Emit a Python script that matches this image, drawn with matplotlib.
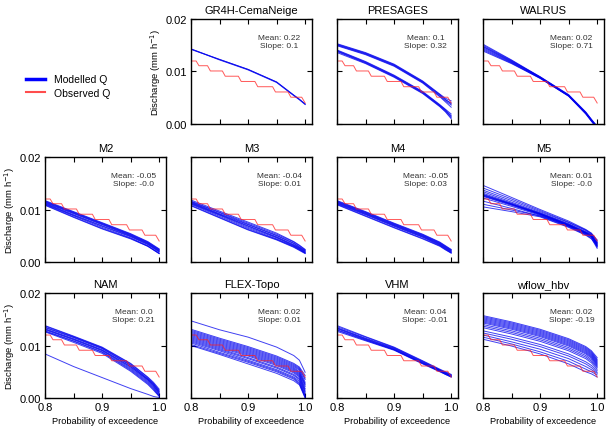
import matplotlib
matplotlib.use("Agg")
import matplotlib.pyplot as plt
from matplotlib.lines import Line2D

plt.rcParams['font.family'] = ['Liberation Sans', 'DejaVu Sans']

# ---------------- data ----------------
x_grid = [0.80, 0.85, 0.90, 0.95, 0.98, 0.99, 1.00]

obs_x = [0.800, 0.809, 0.814, 0.829, 0.834, 0.855, 0.860, 0.883, 0.888,
         0.912, 0.917, 0.943, 0.948, 0.970, 0.975, 0.994, 1.000]
obs_q = [0.0120, 0.0120, 0.0111, 0.0111, 0.0101, 0.0101, 0.0091, 0.0091, 0.0081,
         0.0081, 0.0071, 0.0071, 0.0061, 0.0061, 0.0051, 0.0051, 0.0040]

models = ["GR4H-CemaNeige", "PRESAGES", "WALRUS",
          "M2", "M3", "M4", "M5",
          "NAM", "FLEX-Topo", "VHM", "wflow_hbv"]
mean_vals = ["0.22", "0.1", "0.02", "-0.05", "-0.04", "-0.05", "0.01",
             "0.0", "0.02", "0.04", "0.02"]
slope_vals = ["0.1", "0.32", "0.71", "-0.0", "0.01", "0.03", "-0.0",
              "0.21", "0.01", "-0.01", "-0.19"]

gr4h_q = [
    [0.0143, 0.0123, 0.0104, 0.0080, 0.0055, 0.0047, 0.0038],
    [0.0142, 0.0123, 0.0104, 0.0080, 0.0055, 0.0047, 0.0038],
    [0.0143, 0.0122, 0.0103, 0.0079, 0.0054, 0.0046, 0.0037],
]
presages_q = [
    [0.0153, 0.0136, 0.0114, 0.0082, 0.0057, 0.0049, 0.0044],
    [0.0151, 0.0134, 0.0112, 0.0080, 0.0055, 0.0046, 0.0040],
    [0.0150, 0.0133, 0.0111, 0.0079, 0.0053, 0.0044, 0.0036],
    [0.0149, 0.0132, 0.0110, 0.0078, 0.0052, 0.0042, 0.0032],
    [0.0152, 0.0135, 0.0113, 0.0081, 0.0056, 0.0047, 0.0038],
    [0.0141, 0.0119, 0.0093, 0.0062, 0.0037, 0.0028, 0.0019],
    [0.0139, 0.0117, 0.0091, 0.0060, 0.0035, 0.0026, 0.0016],
    [0.0138, 0.0116, 0.0090, 0.0059, 0.0034, 0.0024, 0.0012],
    [0.0136, 0.0115, 0.0089, 0.0058, 0.0033, 0.0023, 0.0010],
    [0.0140, 0.0118, 0.0092, 0.0061, 0.0036, 0.0027, 0.0014],
]
walrus_q = [
    [0.0152, 0.0122, 0.0090, 0.0055, 0.0022, 0.0008, -0.0006],
    [0.0150, 0.0121, 0.0089, 0.0054, 0.0021, 0.0007, -0.0007],
    [0.0147, 0.0119, 0.0089, 0.0055, 0.0020, 0.0006, -0.0008],
    [0.0145, 0.0118, 0.0088, 0.0054, 0.0021, 0.0007, -0.0006],
    [0.0143, 0.0117, 0.0088, 0.0053, 0.0019, 0.0005, -0.0009],
    [0.0141, 0.0116, 0.0087, 0.0053, 0.0020, 0.0006, -0.0008],
    [0.0139, 0.0115, 0.0087, 0.0054, 0.0022, 0.0008, -0.0005],
    [0.0148, 0.0120, 0.0090, 0.0056, 0.0023, 0.0009, -0.0004],
]
m2_q = [
    [0.0117, 0.0096, 0.0075, 0.0054, 0.0039, 0.0032, 0.0025],
    [0.0116, 0.0095, 0.0074, 0.0053, 0.0038, 0.0031, 0.0024],
    [0.0115, 0.0094, 0.0073, 0.0052, 0.0037, 0.0030, 0.0023],
    [0.0114, 0.0093, 0.0072, 0.0051, 0.0036, 0.0029, 0.0022],
    [0.0113, 0.0092, 0.0071, 0.0050, 0.0035, 0.0028, 0.0021],
    [0.0112, 0.0090, 0.0069, 0.0049, 0.0034, 0.0027, 0.0020],
    [0.0111, 0.0089, 0.0068, 0.0048, 0.0033, 0.0026, 0.0019],
    [0.0110, 0.0088, 0.0066, 0.0046, 0.0031, 0.0024, 0.0017],
    [0.0109, 0.0086, 0.0064, 0.0045, 0.0030, 0.0023, 0.0016],
    [0.0108, 0.0085, 0.0063, 0.0044, 0.0030, 0.0023, 0.0016],
]
m3_q = [
    [0.0118, 0.0097, 0.0076, 0.0055, 0.0039, 0.0032, 0.0024],
    [0.0116, 0.0095, 0.0074, 0.0053, 0.0038, 0.0031, 0.0023],
    [0.0115, 0.0094, 0.0072, 0.0051, 0.0036, 0.0029, 0.0022],
    [0.0114, 0.0092, 0.0071, 0.0050, 0.0035, 0.0028, 0.0021],
    [0.0113, 0.0091, 0.0069, 0.0048, 0.0033, 0.0027, 0.0020],
    [0.0112, 0.0090, 0.0068, 0.0047, 0.0032, 0.0026, 0.0019],
    [0.0111, 0.0089, 0.0066, 0.0046, 0.0031, 0.0025, 0.0018],
    [0.0110, 0.0087, 0.0064, 0.0044, 0.0030, 0.0024, 0.0017],
    [0.0108, 0.0085, 0.0062, 0.0043, 0.0029, 0.0023, 0.0017],
    [0.0107, 0.0084, 0.0061, 0.0042, 0.0028, 0.0022, 0.0016],
]
m4_q = [
    [0.0117, 0.0096, 0.0074, 0.0053, 0.0038, 0.0031, 0.0024],
    [0.0116, 0.0095, 0.0073, 0.0052, 0.0037, 0.0030, 0.0023],
    [0.0115, 0.0094, 0.0072, 0.0051, 0.0036, 0.0029, 0.0022],
    [0.0114, 0.0093, 0.0071, 0.0050, 0.0035, 0.0028, 0.0021],
    [0.0113, 0.0092, 0.0070, 0.0049, 0.0034, 0.0027, 0.0020],
    [0.0112, 0.0091, 0.0069, 0.0048, 0.0033, 0.0026, 0.0019],
    [0.0111, 0.0090, 0.0068, 0.0047, 0.0032, 0.0025, 0.0018],
    [0.0110, 0.0088, 0.0066, 0.0045, 0.0031, 0.0024, 0.0017],
    [0.0109, 0.0087, 0.0065, 0.0044, 0.0030, 0.0023, 0.0017],
]
m5_q = [
    [0.0146, 0.0123, 0.0100, 0.0078, 0.0062, 0.0055, 0.0040],
    [0.0141, 0.0120, 0.0098, 0.0076, 0.0061, 0.0054, 0.0042],
    [0.0137, 0.0117, 0.0096, 0.0075, 0.0060, 0.0053, 0.0036],
    [0.0134, 0.0114, 0.0094, 0.0073, 0.0058, 0.0052, 0.0033],
    [0.0131, 0.0112, 0.0093, 0.0072, 0.0057, 0.0051, 0.0038],
    [0.0129, 0.0111, 0.0092, 0.0071, 0.0056, 0.0050, 0.0030],
    [0.0128, 0.0110, 0.0092, 0.0071, 0.0056, 0.0050, 0.0034],
    [0.0127, 0.0110, 0.0091, 0.0070, 0.0055, 0.0049, 0.0035],
    [0.0126, 0.0109, 0.0091, 0.0070, 0.0055, 0.0049, 0.0031],
    [0.0125, 0.0108, 0.0090, 0.0069, 0.0054, 0.0048, 0.0028],
    [0.0122, 0.0106, 0.0089, 0.0068, 0.0053, 0.0047, 0.0032],
    [0.0116, 0.0102, 0.0087, 0.0067, 0.0052, 0.0045, 0.0026],
    [0.0110, 0.0099, 0.0088, 0.0069, 0.0055, 0.0049, 0.0037],
    [0.0105, 0.0096, 0.0086, 0.0066, 0.0051, 0.0044, 0.0030],
]
nam_q = [
    [0.0138, 0.0118, 0.0097, 0.0066, 0.0040, 0.0030, 0.0017],
    [0.0137, 0.0117, 0.0096, 0.0065, 0.0039, 0.0028, 0.0015],
    [0.0135, 0.0116, 0.0095, 0.0063, 0.0037, 0.0027, 0.0013],
    [0.0134, 0.0115, 0.0094, 0.0062, 0.0036, 0.0026, 0.0012],
    [0.0132, 0.0113, 0.0092, 0.0060, 0.0035, 0.0024, 0.0010],
    [0.0131, 0.0112, 0.0091, 0.0059, 0.0034, 0.0023, 0.0009],
    [0.0130, 0.0111, 0.0090, 0.0057, 0.0032, 0.0021, 0.0007],
    [0.0128, 0.0109, 0.0088, 0.0055, 0.0030, 0.0019, 0.0005],
    [0.0127, 0.0108, 0.0087, 0.0053, 0.0028, 0.0017, 0.0004],
    [0.0126, 0.0106, 0.0085, 0.0051, 0.0026, 0.0015, 0.0003],
    [0.0084, 0.0060, 0.0039, 0.0018, 0.0007, 0.0003, 0.0001],
]
flex_q = [
    [0.0147, 0.0130, 0.0116, 0.0097, 0.0081, 0.0072, 0.0049],
    [0.0131, 0.0114, 0.0098, 0.0080, 0.0066, 0.0059, 0.0043],
    [0.0129, 0.0112, 0.0096, 0.0078, 0.0064, 0.0057, 0.0038],
    [0.0127, 0.0110, 0.0094, 0.0076, 0.0062, 0.0055, 0.0035],
    [0.0125, 0.0108, 0.0092, 0.0074, 0.0060, 0.0053, 0.0030],
    [0.0123, 0.0106, 0.0090, 0.0072, 0.0058, 0.0050, 0.0027],
    [0.0121, 0.0104, 0.0088, 0.0070, 0.0056, 0.0048, 0.0025],
    [0.0119, 0.0102, 0.0086, 0.0068, 0.0054, 0.0046, 0.0022],
    [0.0117, 0.0100, 0.0084, 0.0066, 0.0052, 0.0044, 0.0018],
    [0.0115, 0.0098, 0.0082, 0.0064, 0.0050, 0.0042, 0.0015],
    [0.0113, 0.0096, 0.0080, 0.0062, 0.0048, 0.0040, 0.0012],
    [0.0111, 0.0094, 0.0077, 0.0059, 0.0045, 0.0037, 0.0010],
    [0.0109, 0.0092, 0.0075, 0.0057, 0.0043, 0.0035, 0.0006],
    [0.0107, 0.0090, 0.0072, 0.0054, 0.0040, 0.0032, 0.0004],
    [0.0105, 0.0087, 0.0070, 0.0052, 0.0038, 0.0029, 0.0002],
    [0.0102, 0.0085, 0.0068, 0.0050, 0.0036, 0.0027, 0.0001],
    [0.0100, 0.0083, 0.0065, 0.0047, 0.0033, 0.0025, 0.0000],
]
vhm_q = [
    [0.0138, 0.0117, 0.0097, 0.0071, 0.0055, 0.0050, 0.0045],
    [0.0136, 0.0116, 0.0096, 0.0070, 0.0054, 0.0049, 0.0044],
    [0.0134, 0.0114, 0.0095, 0.0069, 0.0053, 0.0048, 0.0043],
    [0.0133, 0.0113, 0.0094, 0.0068, 0.0053, 0.0047, 0.0042],
    [0.0132, 0.0112, 0.0093, 0.0067, 0.0052, 0.0047, 0.0042],
    [0.0130, 0.0111, 0.0092, 0.0066, 0.0051, 0.0046, 0.0041],
    [0.0129, 0.0110, 0.0092, 0.0066, 0.0051, 0.0045, 0.0040],
    [0.0127, 0.0109, 0.0091, 0.0065, 0.0050, 0.0045, 0.0040],
]
wflow_q = [
    [0.0157, 0.0145, 0.0131, 0.0113, 0.0098, 0.0090, 0.0077],
    [0.0155, 0.0143, 0.0129, 0.0111, 0.0096, 0.0088, 0.0074],
    [0.0153, 0.0141, 0.0127, 0.0109, 0.0094, 0.0086, 0.0072],
    [0.0151, 0.0139, 0.0125, 0.0107, 0.0092, 0.0084, 0.0070],
    [0.0149, 0.0137, 0.0123, 0.0105, 0.0090, 0.0082, 0.0068],
    [0.0147, 0.0135, 0.0121, 0.0103, 0.0088, 0.0080, 0.0066],
    [0.0145, 0.0133, 0.0119, 0.0101, 0.0086, 0.0078, 0.0064],
    [0.0143, 0.0131, 0.0117, 0.0099, 0.0084, 0.0076, 0.0062],
    [0.0140, 0.0128, 0.0114, 0.0096, 0.0081, 0.0073, 0.0060],
    [0.0137, 0.0125, 0.0111, 0.0093, 0.0078, 0.0070, 0.0058],
    [0.0134, 0.0122, 0.0108, 0.0090, 0.0075, 0.0067, 0.0055],
    [0.0128, 0.0116, 0.0102, 0.0084, 0.0069, 0.0062, 0.0052],
    [0.0124, 0.0112, 0.0098, 0.0080, 0.0065, 0.0058, 0.0049],
    [0.0120, 0.0107, 0.0093, 0.0075, 0.0060, 0.0054, 0.0047],
    [0.0116, 0.0103, 0.0088, 0.0070, 0.0055, 0.0050, 0.0044],
    [0.0112, 0.0099, 0.0084, 0.0065, 0.0050, 0.0046, 0.0040],
]
model_q = [gr4h_q, presages_q, walrus_q, m2_q, m3_q, m4_q, m5_q,
           nam_q, flex_q, vhm_q, wflow_q]

x_ticks = [0.80, 0.85, 0.90, 0.95, 1.00]
x_ticklabels = ["0.8", "", "0.9", "", "1.0"]
y_ticks = [0.00, 0.01, 0.02]
y_ticklabels = ["0.00", "0.01", "0.02"]

# ---------------- layout ----------------
fig = plt.figure(figsize=(6.09, 4.31), dpi=100)
col_left = [0.0739, 0.3136, 0.5534, 0.7931]
row_bottom = [0.7100, 0.3898, 0.0742]
w, h = 0.1987, 0.2436

slots = [(0, 1), (0, 2), (0, 3),
         (1, 0), (1, 1), (1, 2), (1, 3),
         (2, 0), (2, 1), (2, 2), (2, 3)]

for i, (r, c) in enumerate(slots):
    ax = fig.add_axes([col_left[c], row_bottom[r], w, h])
    for q in model_q[i]:
        ax.plot(x_grid, q, color='#0000ee', lw=0.7, alpha=0.75)
    ax.plot(obs_x, obs_q, color='#ff2020', lw=0.7, alpha=0.75)
    ax.set_xlim(0.8, 1.012)
    ax.set_ylim(0.0, 0.02)
    ax.set_xticks(x_ticks)
    ax.set_yticks(y_ticks)
    ax.tick_params(direction='in', top=True, right=True, length=3.5,
                   width=0.8, labelsize=8, pad=3)
    if r == 2:
        ax.set_xticklabels(x_ticklabels)
        ax.set_xlabel("Probability of exceedence", fontsize=6.7, labelpad=3)
    else:
        ax.set_xticklabels([])
    if (r == 0 and c == 1) or c == 0:
        ax.set_yticklabels(y_ticklabels)
        ax.set_ylabel("Discharge (mm h$^{-1}$)", fontsize=6.8, labelpad=1.5)
    else:
        ax.set_yticklabels([])
    for s in ax.spines.values():
        s.set_linewidth(1.0)
    ax.set_title(models[i], fontsize=8, pad=4)
    ax.text(0.73, 0.785, "Mean: " + mean_vals[i] + "\nSlope: " + slope_vals[i],
            transform=ax.transAxes, ha='center', va='center',
            multialignment='center', fontsize=6, color='#333333',
            linespacing=1.35)

handles = [Line2D([], [], color='#0000ff', lw=2.5),
           Line2D([], [], color='#ff2020', lw=1.5, alpha=0.8)]
fig.legend(handles, ["Modelled Q", "Observed Q"], loc='center',
           bbox_to_anchor=(0.112, 0.798), frameon=False, fontsize=7.5,
           handlelength=1.8, handletextpad=0.8, labelspacing=0.3)

fig.savefig("out.png", dpi=100)
